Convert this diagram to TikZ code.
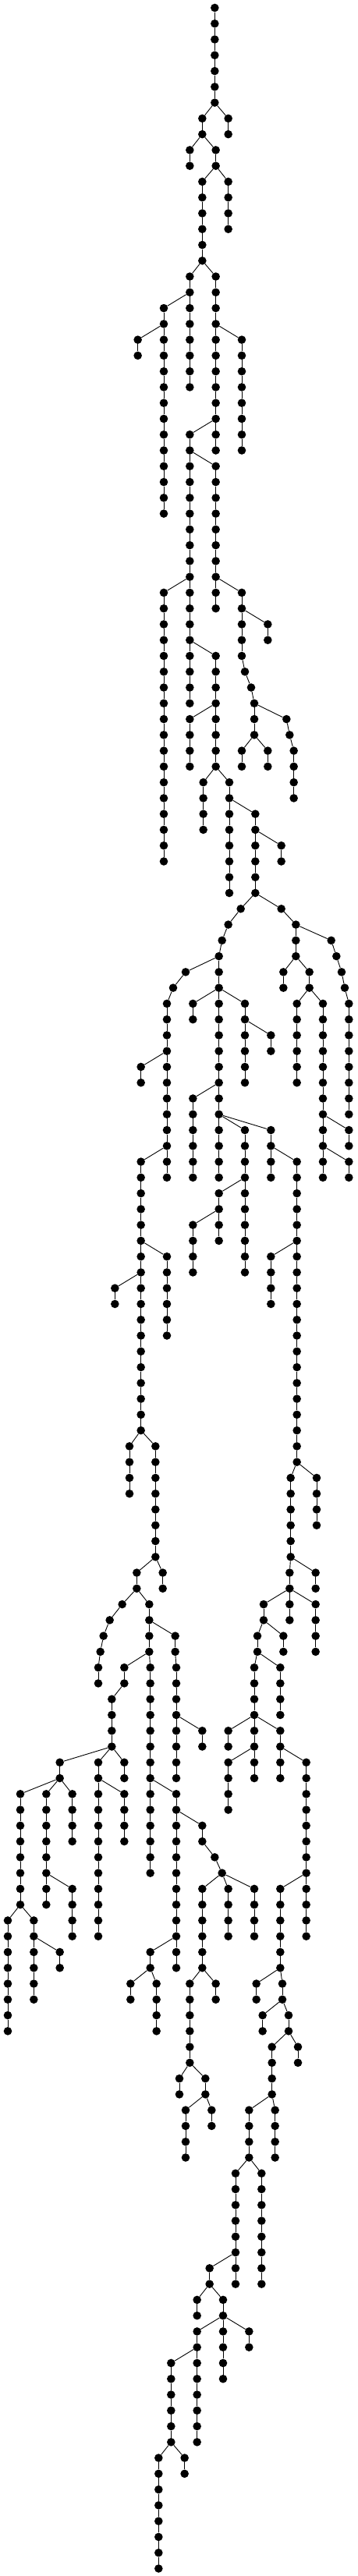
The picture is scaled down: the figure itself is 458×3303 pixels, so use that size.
\documentclass[tikz,border=0pt]{standalone}
\tikzset{
  tnode/.style={circle, fill=black, draw=none, inner sep=0pt, minimum size=10.6pt},
  tedge/.style={line width=0.9pt, draw=black},
}
\newcommand\vchain[3]{%
  \foreach \r in {#2,...,#3}{\node[tnode] (n#1-\r) at ({#1/3},{-10-20.268*\r}) {};}%
  \foreach \r in {#2,...,#3}{\ifnum\r>#2\relax\pgfmathtruncatemacro\rp{\r-1}\draw[tedge] (n#1-\rp) -- (n#1-\r);\fi}%
}
\begin{document}
\begin{tikzpicture}[x=1pt,y=1pt]
\fill[white] (0,0) rectangle (458,-3303);
\useasboundingbox (0,0) rectangle (458,-3303);
\vchain{826}{0}{6}
\vchain{878}{7}{8}
\vchain{778}{7}{8}
\vchain{730}{9}{10}
\vchain{830}{9}{10}
\vchain{878}{11}{14}
\vchain{778}{11}{16}
\vchain{730}{17}{24}
\vchain{830}{17}{28}
\vchain{630}{19}{32}
\vchain{530}{21}{22}
\vchain{930}{21}{28}
\vchain{730}{27}{44}
\vchain{830}{29}{38}
\vchain{630}{37}{54}
\vchain{930}{37}{41}
\vchain{942}{42}{42}
\vchain{966}{43}{43}
\vchain{978}{44}{46}
\vchain{1030}{39}{40}
\vchain{930}{47}{48}
\vchain{1030}{47}{48}
\vchain{1102}{45}{45}
\vchain{1114}{46}{46}
\vchain{1130}{47}{50}
\vchain{830}{41}{48}
\vchain{730}{45}{48}
\vchain{782}{49}{52}
\vchain{882}{49}{56}
\vchain{982}{51}{56}
\vchain{1082}{53}{54}
\vchain{926}{57}{57}
\vchain{878}{58}{58}
\vchain{854}{59}{59}
\vchain{842}{60}{74}
\vchain{1082}{57}{57}
\vchain{1138}{58}{60}
\vchain{1274}{59}{59}
\vchain{1294}{60}{60}
\vchain{1314}{61}{61}
\vchain{1326}{62}{62}
\vchain{1342}{63}{70}
\vchain{1090}{61}{62}
\vchain{1190}{61}{62}
\vchain{1142}{63}{68}
\vchain{1242}{63}{74}
\vchain{1342}{71}{72}
\vchain{1342}{73}{74}
\vchain{714}{61}{61}
\vchain{666}{62}{62}
\vchain{642}{63}{74}
\vchain{542}{67}{68}
\vchain{542}{73}{90}
\vchain{642}{79}{84}
\vchain{442}{81}{82}
\vchain{498}{91}{94}
\vchain{598}{91}{98}
\vchain{626}{99}{100}
\vchain{526}{99}{100}
\vchain{470}{101}{101}
\vchain{422}{102}{102}
\vchain{398}{103}{103}
\vchain{386}{104}{104}
\vchain{378}{105}{106}
\vchain{574}{101}{104}
\vchain{578}{105}{118}
\vchain{674}{103}{104}
\vchain{678}{105}{112}
\vchain{778}{109}{110}
\vchain{478}{105}{106}
\vchain{430}{107}{110}
\vchain{478}{111}{112}
\vchain{378}{111}{122}
\vchain{478}{113}{116}
\vchain{230}{111}{112}
\vchain{278}{113}{116}
\vchain{178}{113}{120}
\vchain{278}{119}{122}
\vchain{78}{113}{120}
\vchain{30}{121}{128}
\vchain{130}{121}{126}
\vchain{230}{123}{124}
\vchain{678}{113}{124}
\vchain{778}{115}{116}
\vchain{826}{117}{117}
\vchain{854}{118}{118}
\vchain{778}{119}{124}
\vchain{878}{119}{122}
\vchain{978}{119}{122}
\vchain{578}{123}{124}
\vchain{502}{125}{126}
\vchain{602}{125}{128}
\vchain{730}{125}{130}
\vchain{830}{125}{126}
\vchain{690}{131}{132}
\vchain{790}{131}{132}
\vchain{814}{133}{134}
\vchain{714}{133}{136}
\vchain{742}{63}{64}
\vchain{942}{63}{68}
\vchain{1042}{65}{66}
\vchain{742}{69}{74}
\vchain{942}{71}{80}
\vchain{1042}{71}{74}
\vchain{842}{75}{78}
\vchain{742}{77}{80}
\vchain{1142}{73}{92}
\vchain{1042}{79}{82}
\vchain{1218}{93}{96}
\vchain{1118}{93}{98}
\vchain{1214}{99}{100}
\vchain{1114}{99}{102}
\vchain{1214}{101}{104}
\vchain{1014}{101}{102}
\vchain{1090}{103}{104}
\vchain{990}{103}{104}
\vchain{978}{105}{112}
\vchain{1078}{105}{108}
\vchain{878}{109}{110}
\vchain{1078}{109}{112}
\vchain{878}{111}{114}
\vchain{1178}{111}{122}
\vchain{1078}{119}{124}
\vchain{986}{125}{126}
\vchain{1086}{125}{126}
\vchain{1010}{127}{128}
\vchain{1110}{127}{128}
\vchain{1146}{129}{130}
\vchain{1046}{129}{132}
\vchain{1058}{133}{136}
\vchain{958}{133}{136}
\vchain{1006}{137}{144}
\vchain{906}{137}{144}
\vchain{806}{143}{144}
\vchain{758}{145}{146}
\vchain{858}{145}{150}
\vchain{758}{147}{154}
\vchain{958}{147}{148}
\vchain{658}{149}{154}
\vchain{710}{155}{156}
\vchain{610}{155}{162}
\foreach \a/\b/\c/\d in {
826/6/878/7, 826/6/778/7, 778/8/730/9, 778/8/830/9, 830/10/878/11, 830/10/778/11,
778/16/730/17, 778/16/830/17, 730/18/630/19, 630/20/530/21, 830/20/930/21, 830/26/730/27,
730/28/830/29, 730/36/630/37, 830/36/930/37, 930/41/942/42, 942/42/966/43, 966/43/978/44,
930/38/1030/39, 978/46/930/47, 978/46/1030/47, 978/44/1102/45, 1102/45/1114/46, 1114/46/1130/47,
730/40/830/41, 830/44/730/45, 830/48/782/49, 830/48/882/49, 882/50/982/51, 982/52/1082/53,
982/56/926/57, 926/57/878/58, 878/58/854/59, 854/59/842/60, 982/56/1082/57, 1082/57/1138/58,
1138/58/1274/59, 1274/59/1294/60, 1294/60/1314/61, 1314/61/1326/62, 1326/62/1342/63,
1138/60/1090/61, 1138/60/1190/61, 1190/62/1142/63, 1190/62/1242/63, 1242/70/1342/71, 1242/72/1342/73,
842/60/714/61, 714/61/666/62, 666/62/642/63, 642/66/542/67, 642/72/542/73, 542/78/642/79,
542/80/442/81, 542/90/498/91, 542/90/598/91, 598/98/626/99, 598/98/526/99, 526/100/470/101,
470/101/422/102, 422/102/398/103, 398/103/386/104, 386/104/378/105, 526/100/574/101,
574/104/578/105, 574/102/674/103, 674/104/678/105, 678/108/778/109, 574/104/478/105,
478/106/430/107, 430/110/478/111, 430/110/378/111, 378/112/478/113, 430/110/230/111,
230/112/278/113, 230/112/178/113, 178/118/278/119, 230/112/78/113, 78/120/30/121, 78/120/130/121,
130/122/230/123, 578/112/678/113, 678/114/778/115, 778/116/826/117, 826/117/854/118,
854/118/778/119, 854/118/878/119, 854/118/978/119, 678/122/578/123, 578/124/502/125,
578/124/602/125, 778/124/730/125, 778/124/830/125, 730/130/690/131, 730/130/790/131,
790/132/814/133, 790/132/714/133, 842/62/742/63, 842/62/942/63, 942/64/1042/65, 842/68/742/69,
842/70/942/71, 842/70/1042/71, 942/74/842/75, 842/76/742/77, 1042/72/1142/73, 1142/78/1042/79,
1142/92/1218/93, 1142/92/1118/93, 1118/98/1214/99, 1118/98/1114/99, 1114/100/1214/101,
1114/100/1014/101, 1014/102/1090/103, 1014/102/990/103, 990/104/978/105, 990/104/1078/105,
978/108/878/109, 978/108/1078/109, 978/110/878/111, 1078/110/1178/111, 1178/118/1078/119,
1078/124/986/125, 1078/124/1086/125, 1086/126/1010/127, 1086/126/1110/127, 1110/128/1146/129,
1110/128/1046/129, 1046/132/1058/133, 1046/132/958/133, 958/136/1006/137, 958/136/906/137,
906/142/806/143, 806/144/758/145, 806/144/858/145, 858/146/758/147, 858/146/958/147,
758/148/658/149, 658/154/710/155, 658/154/610/155}
{\draw[tedge] (n\a-\b) -- (n\c-\d);}
\end{tikzpicture}
\end{document}
